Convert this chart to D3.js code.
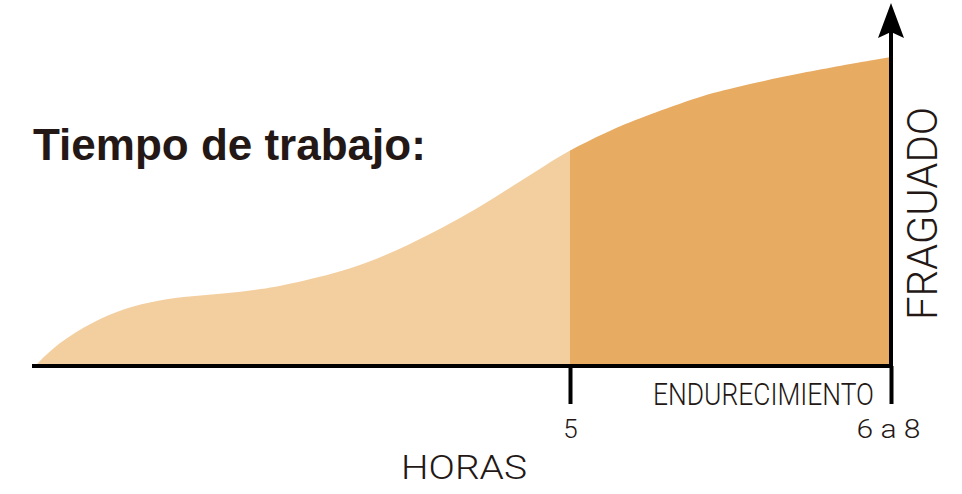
<!DOCTYPE html>
<html>
<head>
<meta charset="utf-8">
<script src="https://cdn.jsdelivr.net/npm/d3@7"></script>
<style>
  html, body { margin: 0; padding: 0; background: #fff; }
  svg { display: block; }
</style>
</head>
<body>
<svg id="chart" width="962" height="494"></svg>
<script>
// Data (hours vs. setting progress)
const hours    = [0, 0.215, 0.533, 0.841, 1.15, 1.47, 1.78, 2.10, 2.48, 3.10, 3.72, 4.16, 4.47, 4.79, 5.0, 5.40, 5.72, 6.21, 6.56, 7.18, 8.0];
const fraguado = [0, 7.4, 14.2, 18.7, 21.3, 22.6, 23.4, 24.6, 27.1, 32.6, 42.9, 51.3, 58.2, 65.2, 69.7, 76.5, 80.8, 87.0, 90.0, 94.8, 99.7];
const tickValues = [5, 8];
const tickLabels = ["5", "6 a 8"];
const splitHour = 5;

const title = "Tiempo de trabajo:";
const xTitle = "HORAS";
const yTitle = "FRAGUADO";
const phaseLabel = "ENDURECIMIENTO";

const ink = "#231815";
const lightFill = "#F3CFA0";
const darkFill = "#E8AB62";

const svg = d3.select("#chart");
const x = d3.scaleLinear().domain([0, 8]).range([35, 891]);
const y = d3.scaleLinear().domain([0, 100]).range([366, 56]);

const data = hours.map((h, i) => ({ h, v: fraguado[i] }));
const area = d3.area()
  .x(d => x(d.h))
  .y0(y(0))
  .y1(d => y(d.v))
  .curve(d3.curveBasis);

// Full area clipped into two phases
const defs = svg.append("defs");
defs.append("clipPath").attr("id", "clipL")
  .append("rect").attr("x", 0).attr("y", 0)
  .attr("width", x(splitHour)).attr("height", 494);
defs.append("clipPath").attr("id", "clipR")
  .append("rect").attr("x", x(splitHour)).attr("y", 0)
  .attr("width", 962 - x(splitHour)).attr("height", 494);

svg.append("path").datum(data).attr("d", area)
  .attr("fill", lightFill).attr("clip-path", "url(#clipL)");
svg.append("path").datum(data).attr("d", area)
  .attr("fill", darkFill).attr("clip-path", "url(#clipR)");

// Baseline
svg.append("line")
  .attr("x1", 32).attr("x2", x(8) + 2)
  .attr("y1", y(0)).attr("y2", y(0))
  .attr("stroke", "#000").attr("stroke-width", 4);

// Ticks via d3 axis
const axis = d3.axisBottom(x)
  .tickValues(tickValues)
  .tickSize(38)
  .tickFormat((d, i) => tickLabels[i]);
const gx = svg.append("g").attr("transform", `translate(0,${y(0)})`).call(axis);
gx.select(".domain").remove();
gx.selectAll(".tick line").attr("stroke", "#000").attr("stroke-width", 4);
gx.selectAll(".tick text")
  .attr("y", 71.5).attr("dy", null)
  .attr("fill", ink)
  .style("font-family", "Roboto, 'Liberation Sans', sans-serif")
  .style("font-weight", 300)
  .style("font-size", "26px")
  .attr("textLength", (d, i) => i === 1 ? 64 : null)
  .attr("lengthAdjust", "spacingAndGlyphs");
gx.selectAll(".tick text").filter((d, i) => i === 1).attr("x", -3);

// Vertical axis with arrow
svg.append("line")
  .attr("x1", x(8)).attr("x2", x(8))
  .attr("y1", y(0)).attr("y2", 30)
  .attr("stroke", "#000").attr("stroke-width", 4);
const ax = x(8);
svg.append("path")
  .attr("d", `M${ax},3 L${ax + 13},38 L${ax},32 L${ax - 13},38 Z`)
  .attr("fill", "#000");

// Texts
svg.append("text")
  .attr("x", 33).attr("y", 160)
  .attr("fill", ink)
  .style("font-family", "'Liberation Sans', Arial, sans-serif")
  .style("font-weight", "bold")
  .style("font-size", "44px")
  .text(title);

svg.append("text")
  .attr("x", 653).attr("y", 405)
  .attr("textLength", 221).attr("lengthAdjust", "spacingAndGlyphs")
  .attr("fill", ink)
  .style("font-family", "Roboto, 'Liberation Sans', sans-serif")
  .style("font-weight", 300)
  .style("font-size", "32px")
  .text(phaseLabel);

svg.append("text")
  .attr("x", 401).attr("y", 479)
  .attr("textLength", 126).attr("lengthAdjust", "spacingAndGlyphs")
  .attr("fill", ink)
  .style("font-family", "Roboto, 'Liberation Sans', sans-serif")
  .style("font-weight", 300)
  .style("font-size", "33px")
  .text(xTitle);

svg.append("text")
  .attr("transform", "translate(937,320) rotate(-90)")
  .attr("textLength", 213).attr("lengthAdjust", "spacingAndGlyphs")
  .attr("fill", ink)
  .style("font-family", "Roboto, 'Liberation Sans', sans-serif")
  .style("font-weight", 300)
  .style("font-size", "42px")
  .text(yTitle);
</script>
</body>
</html>
